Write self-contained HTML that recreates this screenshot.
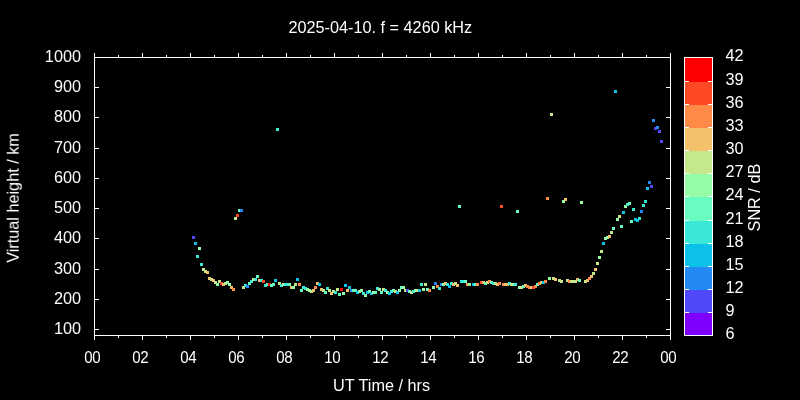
<!DOCTYPE html><html><head><meta charset="utf-8"><style>html,body{margin:0;padding:0;background:#000;}svg{display:block}text{font-family:"Liberation Sans",sans-serif;font-size:16.25px;fill:#fff}</style></head><body>
<svg width="800" height="400" viewBox="0 0 800 400">
<rect width="800" height="400" fill="#000"/>
<g shape-rendering="crispEdges" fill="#fff">
<rect x="94" y="57" width="577" height="1"/>
<rect x="94" y="335" width="577" height="1"/>
<rect x="94" y="57" width="1" height="279"/>
<rect x="670" y="57" width="1" height="279"/>
<rect x="94" y="335" width="1" height="5"/>
<rect x="94" y="53" width="1" height="5"/>
<rect x="118" y="335" width="1" height="3"/>
<rect x="118" y="55" width="1" height="3"/>
<rect x="142" y="335" width="1" height="5"/>
<rect x="142" y="53" width="1" height="5"/>
<rect x="166" y="335" width="1" height="3"/>
<rect x="166" y="55" width="1" height="3"/>
<rect x="190" y="335" width="1" height="5"/>
<rect x="190" y="53" width="1" height="5"/>
<rect x="214" y="335" width="1" height="3"/>
<rect x="214" y="55" width="1" height="3"/>
<rect x="238" y="335" width="1" height="5"/>
<rect x="238" y="53" width="1" height="5"/>
<rect x="262" y="335" width="1" height="3"/>
<rect x="262" y="55" width="1" height="3"/>
<rect x="286" y="335" width="1" height="5"/>
<rect x="286" y="53" width="1" height="5"/>
<rect x="310" y="335" width="1" height="3"/>
<rect x="310" y="55" width="1" height="3"/>
<rect x="334" y="335" width="1" height="5"/>
<rect x="334" y="53" width="1" height="5"/>
<rect x="358" y="335" width="1" height="3"/>
<rect x="358" y="55" width="1" height="3"/>
<rect x="382" y="335" width="1" height="5"/>
<rect x="382" y="53" width="1" height="5"/>
<rect x="406" y="335" width="1" height="3"/>
<rect x="406" y="55" width="1" height="3"/>
<rect x="430" y="335" width="1" height="5"/>
<rect x="430" y="53" width="1" height="5"/>
<rect x="454" y="335" width="1" height="3"/>
<rect x="454" y="55" width="1" height="3"/>
<rect x="478" y="335" width="1" height="5"/>
<rect x="478" y="53" width="1" height="5"/>
<rect x="502" y="335" width="1" height="3"/>
<rect x="502" y="55" width="1" height="3"/>
<rect x="526" y="335" width="1" height="5"/>
<rect x="526" y="53" width="1" height="5"/>
<rect x="550" y="335" width="1" height="3"/>
<rect x="550" y="55" width="1" height="3"/>
<rect x="574" y="335" width="1" height="5"/>
<rect x="574" y="53" width="1" height="5"/>
<rect x="598" y="335" width="1" height="3"/>
<rect x="598" y="55" width="1" height="3"/>
<rect x="622" y="335" width="1" height="5"/>
<rect x="622" y="53" width="1" height="5"/>
<rect x="646" y="335" width="1" height="3"/>
<rect x="646" y="55" width="1" height="3"/>
<rect x="670" y="335" width="1" height="5"/>
<rect x="670" y="53" width="1" height="5"/>
<rect x="94" y="329" width="5" height="1"/>
<rect x="666" y="329" width="5" height="1"/>
<rect x="94" y="299" width="5" height="1"/>
<rect x="666" y="299" width="5" height="1"/>
<rect x="94" y="269" width="5" height="1"/>
<rect x="666" y="269" width="5" height="1"/>
<rect x="94" y="238" width="5" height="1"/>
<rect x="666" y="238" width="5" height="1"/>
<rect x="94" y="208" width="5" height="1"/>
<rect x="666" y="208" width="5" height="1"/>
<rect x="94" y="178" width="5" height="1"/>
<rect x="666" y="178" width="5" height="1"/>
<rect x="94" y="148" width="5" height="1"/>
<rect x="666" y="148" width="5" height="1"/>
<rect x="94" y="117" width="5" height="1"/>
<rect x="666" y="117" width="5" height="1"/>
<rect x="94" y="87" width="5" height="1"/>
<rect x="666" y="87" width="5" height="1"/>
<rect x="94" y="57" width="5" height="1"/>
<rect x="666" y="57" width="5" height="1"/>
</g>
<g shape-rendering="crispEdges">
<rect x="684" y="312" width="29" height="24" fill="#8000ff"/>
<rect x="684" y="289" width="29" height="24" fill="#5148fc"/>
<rect x="684" y="266" width="29" height="24" fill="#238af5"/>
<rect x="684" y="243" width="29" height="24" fill="#0cc1e8"/>
<rect x="684" y="220" width="29" height="24" fill="#3ae8d7"/>
<rect x="684" y="196" width="29" height="25" fill="#68fcc1"/>
<rect x="684" y="173" width="29" height="24" fill="#97fca7"/>
<rect x="684" y="150" width="29" height="24" fill="#c5e88a"/>
<rect x="684" y="127" width="29" height="24" fill="#f3c16a"/>
<rect x="684" y="104" width="29" height="24" fill="#ff8a48"/>
<rect x="684" y="81" width="29" height="24" fill="#ff4824"/>
<rect x="684" y="57" width="29" height="25" fill="#ff0000"/>
<g fill="#fff"><rect x="684" y="57" width="29" height="1"/><rect x="684" y="335" width="29" height="1"/><rect x="684" y="57" width="1" height="279"/><rect x="712" y="57" width="1" height="279"/>
<rect x="684" y="81" width="5" height="1"/><rect x="708" y="81" width="5" height="1"/>
<rect x="684" y="104" width="5" height="1"/><rect x="708" y="104" width="5" height="1"/>
<rect x="684" y="127" width="5" height="1"/><rect x="708" y="127" width="5" height="1"/>
<rect x="684" y="150" width="5" height="1"/><rect x="708" y="150" width="5" height="1"/>
<rect x="684" y="173" width="5" height="1"/><rect x="708" y="173" width="5" height="1"/>
<rect x="684" y="196" width="5" height="1"/><rect x="708" y="196" width="5" height="1"/>
<rect x="684" y="220" width="5" height="1"/><rect x="708" y="220" width="5" height="1"/>
<rect x="684" y="243" width="5" height="1"/><rect x="708" y="243" width="5" height="1"/>
<rect x="684" y="266" width="5" height="1"/><rect x="708" y="266" width="5" height="1"/>
<rect x="684" y="289" width="5" height="1"/><rect x="708" y="289" width="5" height="1"/>
<rect x="684" y="312" width="5" height="1"/><rect x="708" y="312" width="5" height="1"/>
</g></g>
<g shape-rendering="crispEdges">
<rect x="192" y="236" width="3" height="3" fill="#5148fc"/>
<rect x="194" y="242" width="3" height="3" fill="#0cc1e8"/>
<rect x="198" y="247" width="3" height="3" fill="#97fca7"/>
<rect x="196" y="255" width="3" height="3" fill="#3ae8d7"/>
<rect x="200" y="263" width="3" height="3" fill="#3ae8d7"/>
<rect x="202" y="268" width="3" height="3" fill="#c5e88a"/>
<rect x="204" y="270" width="3" height="3" fill="#c5e88a"/>
<rect x="206" y="271" width="3" height="3" fill="#f3c16a"/>
<rect x="208" y="277" width="3" height="3" fill="#f3c16a"/>
<rect x="210" y="278" width="3" height="3" fill="#c5e88a"/>
<rect x="212" y="279" width="3" height="3" fill="#f3c16a"/>
<rect x="214" y="281" width="3" height="3" fill="#c5e88a"/>
<rect x="216" y="283" width="3" height="3" fill="#97fca7"/>
<rect x="218" y="280" width="3" height="3" fill="#c5e88a"/>
<rect x="220" y="282" width="3" height="3" fill="#ff4824"/>
<rect x="222" y="283" width="3" height="3" fill="#f3c16a"/>
<rect x="224" y="282" width="3" height="3" fill="#c5e88a"/>
<rect x="226" y="281" width="3" height="3" fill="#97fca7"/>
<rect x="228" y="283" width="3" height="3" fill="#97fca7"/>
<rect x="230" y="286" width="3" height="3" fill="#f3c16a"/>
<rect x="232" y="288" width="3" height="3" fill="#ff8a48"/>
<rect x="234" y="217" width="3" height="3" fill="#c5e88a"/>
<rect x="236" y="214" width="3" height="3" fill="#ff4824"/>
<rect x="238" y="209" width="3" height="3" fill="#68fcc1"/>
<rect x="240" y="209" width="3" height="3" fill="#238af5"/>
<rect x="242" y="286" width="3" height="3" fill="#c5e88a"/>
<rect x="244" y="284" width="3" height="3" fill="#3ae8d7"/>
<rect x="246" y="285" width="3" height="3" fill="#238af5"/>
<rect x="248" y="282" width="3" height="3" fill="#68fcc1"/>
<rect x="250" y="280" width="3" height="3" fill="#3ae8d7"/>
<rect x="252" y="278" width="3" height="3" fill="#c5e88a"/>
<rect x="254" y="278" width="3" height="3" fill="#3ae8d7"/>
<rect x="256" y="275" width="3" height="3" fill="#68fcc1"/>
<rect x="258" y="279" width="3" height="3" fill="#f3c16a"/>
<rect x="260" y="279" width="3" height="3" fill="#3ae8d7"/>
<rect x="262" y="280" width="3" height="3" fill="#ff4824"/>
<rect x="264" y="284" width="3" height="3" fill="#3ae8d7"/>
<rect x="266" y="283" width="3" height="3" fill="#68fcc1"/>
<rect x="268" y="283" width="3" height="3" fill="#ff0000"/>
<rect x="270" y="284" width="3" height="3" fill="#68fcc1"/>
<rect x="272" y="283" width="3" height="3" fill="#68fcc1"/>
<rect x="274" y="279" width="3" height="3" fill="#0cc1e8"/>
<rect x="276" y="128" width="3" height="3" fill="#3ae8d7"/>
<rect x="278" y="282" width="3" height="3" fill="#c5e88a"/>
<rect x="280" y="284" width="3" height="3" fill="#3ae8d7"/>
<rect x="282" y="283" width="3" height="3" fill="#c5e88a"/>
<rect x="284" y="283" width="3" height="3" fill="#3ae8d7"/>
<rect x="286" y="283" width="3" height="3" fill="#3ae8d7"/>
<rect x="288" y="283" width="3" height="3" fill="#68fcc1"/>
<rect x="290" y="286" width="3" height="3" fill="#f3c16a"/>
<rect x="292" y="286" width="3" height="3" fill="#97fca7"/>
<rect x="294" y="283" width="3" height="3" fill="#c5e88a"/>
<rect x="296" y="278" width="3" height="3" fill="#0cc1e8"/>
<rect x="298" y="283" width="3" height="3" fill="#ff8a48"/>
<rect x="300" y="289" width="3" height="3" fill="#68fcc1"/>
<rect x="302" y="286" width="3" height="3" fill="#3ae8d7"/>
<rect x="304" y="287" width="3" height="3" fill="#3ae8d7"/>
<rect x="306" y="288" width="3" height="3" fill="#97fca7"/>
<rect x="308" y="289" width="3" height="3" fill="#97fca7"/>
<rect x="310" y="290" width="3" height="3" fill="#c5e88a"/>
<rect x="312" y="289" width="3" height="3" fill="#f3c16a"/>
<rect x="314" y="286" width="3" height="3" fill="#ff8a48"/>
<rect x="316" y="282" width="3" height="3" fill="#f3c16a"/>
<rect x="318" y="283" width="3" height="3" fill="#0cc1e8"/>
<rect x="320" y="288" width="3" height="3" fill="#f3c16a"/>
<rect x="322" y="289" width="3" height="3" fill="#c5e88a"/>
<rect x="324" y="291" width="3" height="3" fill="#68fcc1"/>
<rect x="326" y="287" width="3" height="3" fill="#3ae8d7"/>
<rect x="328" y="289" width="3" height="3" fill="#c5e88a"/>
<rect x="330" y="292" width="3" height="3" fill="#f3c16a"/>
<rect x="332" y="290" width="3" height="3" fill="#c5e88a"/>
<rect x="334" y="291" width="3" height="3" fill="#3ae8d7"/>
<rect x="336" y="288" width="3" height="3" fill="#c5e88a"/>
<rect x="338" y="293" width="3" height="3" fill="#68fcc1"/>
<rect x="340" y="288" width="3" height="3" fill="#ff0000"/>
<rect x="342" y="292" width="3" height="3" fill="#97fca7"/>
<rect x="344" y="284" width="3" height="3" fill="#0cc1e8"/>
<rect x="346" y="289" width="3" height="3" fill="#f3c16a"/>
<rect x="348" y="286" width="3" height="3" fill="#0cc1e8"/>
<rect x="350" y="289" width="3" height="3" fill="#238af5"/>
<rect x="352" y="289" width="3" height="3" fill="#68fcc1"/>
<rect x="354" y="289" width="3" height="3" fill="#68fcc1"/>
<rect x="356" y="291" width="3" height="3" fill="#0cc1e8"/>
<rect x="358" y="290" width="3" height="3" fill="#97fca7"/>
<rect x="360" y="289" width="3" height="3" fill="#97fca7"/>
<rect x="362" y="292" width="3" height="3" fill="#3ae8d7"/>
<rect x="364" y="294" width="3" height="3" fill="#97fca7"/>
<rect x="366" y="291" width="3" height="3" fill="#0cc1e8"/>
<rect x="368" y="290" width="3" height="3" fill="#68fcc1"/>
<rect x="370" y="292" width="3" height="3" fill="#0cc1e8"/>
<rect x="372" y="291" width="3" height="3" fill="#97fca7"/>
<rect x="374" y="291" width="3" height="3" fill="#68fcc1"/>
<rect x="376" y="287" width="3" height="3" fill="#3ae8d7"/>
<rect x="378" y="288" width="3" height="3" fill="#97fca7"/>
<rect x="380" y="291" width="3" height="3" fill="#68fcc1"/>
<rect x="382" y="288" width="3" height="3" fill="#c5e88a"/>
<rect x="384" y="289" width="3" height="3" fill="#3ae8d7"/>
<rect x="386" y="291" width="3" height="3" fill="#97fca7"/>
<rect x="388" y="292" width="3" height="3" fill="#0cc1e8"/>
<rect x="390" y="290" width="3" height="3" fill="#3ae8d7"/>
<rect x="392" y="289" width="3" height="3" fill="#68fcc1"/>
<rect x="394" y="290" width="3" height="3" fill="#c5e88a"/>
<rect x="396" y="291" width="3" height="3" fill="#0cc1e8"/>
<rect x="398" y="289" width="3" height="3" fill="#97fca7"/>
<rect x="400" y="286" width="3" height="3" fill="#68fcc1"/>
<rect x="402" y="286" width="3" height="3" fill="#97fca7"/>
<rect x="404" y="289" width="3" height="3" fill="#c5e88a"/>
<rect x="406" y="289" width="3" height="3" fill="#5148fc"/>
<rect x="408" y="290" width="3" height="3" fill="#68fcc1"/>
<rect x="410" y="291" width="3" height="3" fill="#c5e88a"/>
<rect x="412" y="290" width="3" height="3" fill="#3ae8d7"/>
<rect x="414" y="289" width="3" height="3" fill="#97fca7"/>
<rect x="416" y="289" width="3" height="3" fill="#c5e88a"/>
<rect x="418" y="289" width="3" height="3" fill="#0cc1e8"/>
<rect x="420" y="283" width="3" height="3" fill="#3ae8d7"/>
<rect x="422" y="288" width="3" height="3" fill="#97fca7"/>
<rect x="424" y="283" width="3" height="3" fill="#c5e88a"/>
<rect x="426" y="288" width="3" height="3" fill="#68fcc1"/>
<rect x="428" y="289" width="3" height="3" fill="#ff8a48"/>
<rect x="432" y="286" width="3" height="3" fill="#97fca7"/>
<rect x="434" y="282" width="3" height="3" fill="#238af5"/>
<rect x="436" y="285" width="3" height="3" fill="#ff8a48"/>
<rect x="438" y="287" width="3" height="3" fill="#3ae8d7"/>
<rect x="440" y="283" width="3" height="3" fill="#238af5"/>
<rect x="442" y="283" width="3" height="3" fill="#97fca7"/>
<rect x="444" y="282" width="3" height="3" fill="#f3c16a"/>
<rect x="446" y="283" width="3" height="3" fill="#3ae8d7"/>
<rect x="448" y="285" width="3" height="3" fill="#0cc1e8"/>
<rect x="450" y="282" width="3" height="3" fill="#3ae8d7"/>
<rect x="452" y="283" width="3" height="3" fill="#f3c16a"/>
<rect x="454" y="282" width="3" height="3" fill="#c5e88a"/>
<rect x="456" y="284" width="3" height="3" fill="#f3c16a"/>
<rect x="458" y="205" width="3" height="3" fill="#68fcc1"/>
<rect x="460" y="280" width="3" height="3" fill="#3ae8d7"/>
<rect x="462" y="280" width="3" height="3" fill="#3ae8d7"/>
<rect x="464" y="280" width="3" height="3" fill="#68fcc1"/>
<rect x="466" y="283" width="3" height="3" fill="#ff8a48"/>
<rect x="468" y="283" width="3" height="3" fill="#97fca7"/>
<rect x="472" y="283" width="3" height="3" fill="#0cc1e8"/>
<rect x="474" y="283" width="3" height="3" fill="#68fcc1"/>
<rect x="476" y="283" width="3" height="3" fill="#ff8a48"/>
<rect x="480" y="281" width="3" height="3" fill="#ff4824"/>
<rect x="482" y="281" width="3" height="3" fill="#f3c16a"/>
<rect x="484" y="282" width="3" height="3" fill="#68fcc1"/>
<rect x="486" y="281" width="3" height="3" fill="#c5e88a"/>
<rect x="488" y="280" width="3" height="3" fill="#ff8a48"/>
<rect x="490" y="281" width="3" height="3" fill="#68fcc1"/>
<rect x="492" y="282" width="3" height="3" fill="#3ae8d7"/>
<rect x="494" y="282" width="3" height="3" fill="#c5e88a"/>
<rect x="496" y="283" width="3" height="3" fill="#f3c16a"/>
<rect x="498" y="282" width="3" height="3" fill="#ff8a48"/>
<rect x="500" y="205" width="3" height="3" fill="#ff4824"/>
<rect x="502" y="283" width="3" height="3" fill="#ff8a48"/>
<rect x="504" y="283" width="3" height="3" fill="#f3c16a"/>
<rect x="506" y="283" width="3" height="3" fill="#f3c16a"/>
<rect x="508" y="282" width="3" height="3" fill="#3ae8d7"/>
<rect x="510" y="283" width="3" height="3" fill="#c5e88a"/>
<rect x="512" y="283" width="3" height="3" fill="#97fca7"/>
<rect x="514" y="283" width="3" height="3" fill="#3ae8d7"/>
<rect x="516" y="210" width="3" height="3" fill="#68fcc1"/>
<rect x="518" y="286" width="3" height="3" fill="#97fca7"/>
<rect x="520" y="286" width="3" height="3" fill="#c5e88a"/>
<rect x="522" y="285" width="3" height="3" fill="#68fcc1"/>
<rect x="524" y="284" width="3" height="3" fill="#f3c16a"/>
<rect x="526" y="285" width="3" height="3" fill="#ff8a48"/>
<rect x="528" y="286" width="3" height="3" fill="#ff8a48"/>
<rect x="530" y="286" width="3" height="3" fill="#f3c16a"/>
<rect x="532" y="286" width="3" height="3" fill="#ff4824"/>
<rect x="534" y="285" width="3" height="3" fill="#ff8a48"/>
<rect x="536" y="283" width="3" height="3" fill="#68fcc1"/>
<rect x="538" y="282" width="3" height="3" fill="#ff8a48"/>
<rect x="540" y="281" width="3" height="3" fill="#f3c16a"/>
<rect x="542" y="281" width="3" height="3" fill="#0cc1e8"/>
<rect x="544" y="280" width="3" height="3" fill="#ff8a48"/>
<rect x="546" y="197" width="3" height="3" fill="#ff8a48"/>
<rect x="548" y="277" width="3" height="3" fill="#97fca7"/>
<rect x="550" y="113" width="3" height="3" fill="#c5e88a"/>
<rect x="552" y="277" width="3" height="3" fill="#c5e88a"/>
<rect x="554" y="278" width="3" height="3" fill="#f3c16a"/>
<rect x="558" y="279" width="3" height="3" fill="#c5e88a"/>
<rect x="560" y="280" width="3" height="3" fill="#c5e88a"/>
<rect x="562" y="200" width="3" height="3" fill="#97fca7"/>
<rect x="564" y="198" width="3" height="3" fill="#f3c16a"/>
<rect x="566" y="279" width="3" height="3" fill="#c5e88a"/>
<rect x="568" y="280" width="3" height="3" fill="#ff8a48"/>
<rect x="570" y="280" width="3" height="3" fill="#c5e88a"/>
<rect x="572" y="280" width="3" height="3" fill="#c5e88a"/>
<rect x="574" y="280" width="3" height="3" fill="#c5e88a"/>
<rect x="576" y="278" width="3" height="3" fill="#f3c16a"/>
<rect x="578" y="279" width="3" height="3" fill="#68fcc1"/>
<rect x="580" y="201" width="3" height="3" fill="#97fca7"/>
<rect x="584" y="280" width="3" height="3" fill="#c5e88a"/>
<rect x="586" y="279" width="3" height="3" fill="#f3c16a"/>
<rect x="588" y="277" width="3" height="3" fill="#ff8a48"/>
<rect x="590" y="275" width="3" height="3" fill="#f3c16a"/>
<rect x="592" y="272" width="3" height="3" fill="#c5e88a"/>
<rect x="594" y="268" width="3" height="3" fill="#f3c16a"/>
<rect x="596" y="262" width="3" height="3" fill="#c5e88a"/>
<rect x="598" y="256" width="3" height="3" fill="#97fca7"/>
<rect x="600" y="250" width="3" height="3" fill="#c5e88a"/>
<rect x="602" y="242" width="3" height="3" fill="#0cc1e8"/>
<rect x="604" y="237" width="3" height="3" fill="#97fca7"/>
<rect x="606" y="236" width="3" height="3" fill="#97fca7"/>
<rect x="608" y="235" width="3" height="3" fill="#f3c16a"/>
<rect x="610" y="231" width="3" height="3" fill="#c5e88a"/>
<rect x="612" y="227" width="3" height="3" fill="#68fcc1"/>
<rect x="616" y="218" width="3" height="3" fill="#97fca7"/>
<rect x="618" y="215" width="3" height="3" fill="#c5e88a"/>
<rect x="620" y="225" width="3" height="3" fill="#68fcc1"/>
<rect x="622" y="211" width="3" height="3" fill="#0cc1e8"/>
<rect x="624" y="205" width="3" height="3" fill="#97fca7"/>
<rect x="626" y="203" width="3" height="3" fill="#3ae8d7"/>
<rect x="628" y="202" width="3" height="3" fill="#68fcc1"/>
<rect x="630" y="220" width="3" height="3" fill="#68fcc1"/>
<rect x="632" y="208" width="3" height="3" fill="#3ae8d7"/>
<rect x="634" y="218" width="3" height="3" fill="#0cc1e8"/>
<rect x="636" y="219" width="3" height="3" fill="#0cc1e8"/>
<rect x="638" y="217" width="3" height="3" fill="#3ae8d7"/>
<rect x="640" y="210" width="3" height="3" fill="#238af5"/>
<rect x="642" y="204" width="3" height="3" fill="#3ae8d7"/>
<rect x="644" y="200" width="3" height="3" fill="#3ae8d7"/>
<rect x="646" y="187" width="3" height="3" fill="#0cc1e8"/>
<rect x="648" y="181" width="3" height="3" fill="#238af5"/>
<rect x="650" y="185" width="3" height="3" fill="#5148fc"/>
<rect x="614" y="90" width="3" height="3" fill="#0cc1e8"/>
<rect x="652" y="119" width="3" height="3" fill="#238af5"/>
<rect x="654" y="127" width="3" height="3" fill="#5148fc"/>
<rect x="656" y="126" width="3" height="3" fill="#238af5"/>
<rect x="658" y="130" width="3" height="3" fill="#5148fc"/>
<rect x="660" y="140" width="3" height="3" fill="#5148fc"/>
</g>
<g opacity="0.999">
<text x="380.3" y="32.5" text-anchor="middle">2025-04-10. f = 4260 kHz</text>
<text x="81" y="334" text-anchor="end">100</text>
<text x="81" y="304" text-anchor="end">200</text>
<text x="81" y="274" text-anchor="end">300</text>
<text x="81" y="243" text-anchor="end">400</text>
<text x="81" y="213" text-anchor="end">500</text>
<text x="81" y="183" text-anchor="end">600</text>
<text x="81" y="153" text-anchor="end">700</text>
<text x="81" y="122" text-anchor="end">800</text>
<text x="81" y="92" text-anchor="end">900</text>
<text x="81" y="62" text-anchor="end">1000</text>
<text transform="translate(84.2,363) scale(0.93,1)" letter-spacing="-0.4">00</text>
<text transform="translate(132.2,363) scale(0.93,1)" letter-spacing="-0.4">02</text>
<text transform="translate(180.2,363) scale(0.93,1)" letter-spacing="-0.4">04</text>
<text transform="translate(228.2,363) scale(0.93,1)" letter-spacing="-0.4">06</text>
<text transform="translate(276.2,363) scale(0.93,1)" letter-spacing="-0.4">08</text>
<text transform="translate(324.2,363) scale(0.93,1)" letter-spacing="-0.4">10</text>
<text transform="translate(372.2,363) scale(0.93,1)" letter-spacing="-0.4">12</text>
<text transform="translate(420.2,363) scale(0.93,1)" letter-spacing="-0.4">14</text>
<text transform="translate(468.2,363) scale(0.93,1)" letter-spacing="-0.4">16</text>
<text transform="translate(516.2,363) scale(0.93,1)" letter-spacing="-0.4">18</text>
<text transform="translate(564.2,363) scale(0.93,1)" letter-spacing="-0.4">20</text>
<text transform="translate(612.2,363) scale(0.93,1)" letter-spacing="-0.4">22</text>
<text transform="translate(660.2,363) scale(0.93,1)" letter-spacing="-0.4">00</text>
<text x="725.5" y="339">6</text>
<text x="725.5" y="316">9</text>
<text x="725.5" y="293">12</text>
<text x="725.5" y="270">15</text>
<text x="725.5" y="247">18</text>
<text x="725.5" y="224">21</text>
<text x="725.5" y="200">24</text>
<text x="725.5" y="177">27</text>
<text x="725.5" y="154">30</text>
<text x="725.5" y="131">33</text>
<text x="725.5" y="108">36</text>
<text x="725.5" y="85">39</text>
<text x="725.5" y="61">42</text>
<text x="381.5" y="391" text-anchor="middle">UT Time / hrs</text>
<text transform="translate(18.7,198) rotate(-90)" text-anchor="middle">Virtual height / km</text>
<text transform="translate(760.2,197.6) rotate(-90)" text-anchor="middle">SNR / dB</text>
</g>
</svg></body></html>
